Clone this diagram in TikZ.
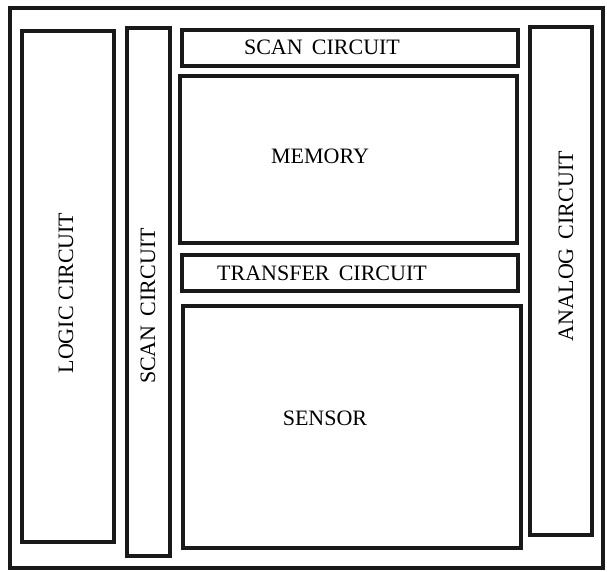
\documentclass[tikz,border=0pt]{standalone}
\usepackage{fontspec}
\setmainfont{Liberation Serif}
\begin{document}
\begin{tikzpicture}[x=1pt,y=-1pt,
  blk/.style={draw=black!90, line width=3.4pt, rectangle, inner sep=0pt},
  lbl/.style={inner sep=0pt, font=\fontsize{22}{24}\selectfont, text=black},
  vlbl/.style={lbl, rotate=90}]
\useasboundingbox (0,0) rectangle (607,572);
\fill[white] (0,0) rectangle (607,572);
% outer frame
\node[blk, minimum width=593pt, minimum height=560pt] (frame) at (306.5,288) {};
% blocks
\node[blk, minimum width=92pt, minimum height=511pt] (logic) at (68,286.5) {};
\node[blk, minimum width=43pt, minimum height=528pt] (scanv) at (148.5,292) {};
\node[blk, minimum width=336pt, minimum height=36pt] (scant) at (350,48) {};
\node[blk, minimum width=337pt, minimum height=167pt] (memory) at (348.5,159.5) {};
\node[blk, minimum width=336pt, minimum height=36pt] (transfer) at (350,273) {};
\node[blk, minimum width=338pt, minimum height=242pt] (sensor) at (352,427) {};
\node[blk, minimum width=62pt, minimum height=508pt] (analog) at (561,281) {};
% labels
\node[lbl] (scant-l) at (322,47) {SCAN\, CIRCUIT};
\node[lbl] (memory-l) at (320,156) {MEMORY};
\node[lbl] (transfer-l) at (322,273) {TRANSFER\, CIRCUIT};
\node[lbl] (sensor-l) at (325,418) {SENSOR};
\node[vlbl] (logic-l) at (66,293) {LOGIC CIRCUIT};
\node[vlbl] (scanv-l) at (148,306) {SCAN\, CIRCUIT};
\node[vlbl] (analog-l) at (566,246) {ANALOG\, CIRCUIT};
\end{tikzpicture}
\end{document}
